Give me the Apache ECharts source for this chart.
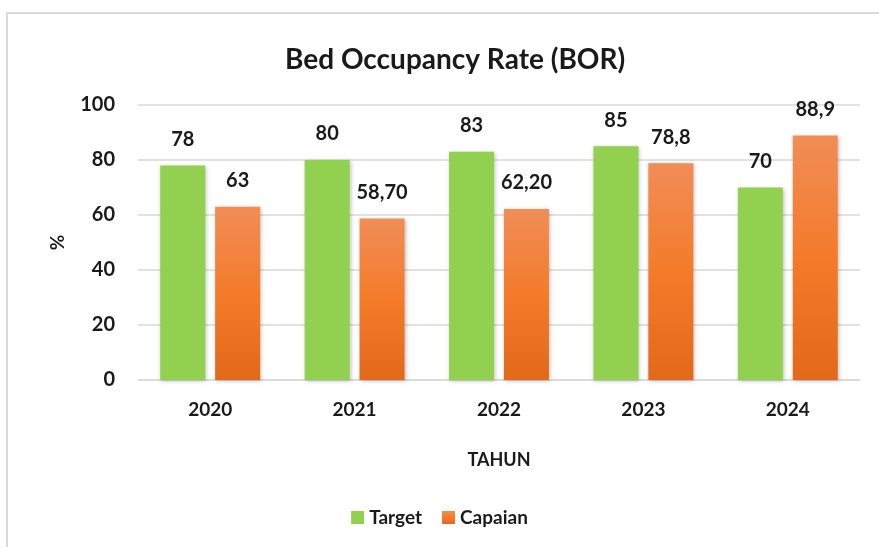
<!DOCTYPE html>
<html lang="id">
<head>
    <meta charset="UTF-8">
    <title>Bed Occupancy Rate (BOR)</title>
    <script src="https://cdn.jsdelivr.net/npm/echarts@6/dist/echarts.min.js"></script>
    <style>
        body {
            margin: 0;
            background: #fff;
        }
        #frame {
            position: absolute;
            left: 6px;
            top: 12px;
            width: 900px;
            height: 560px;
            border-left: 2px solid #d9d9d9;
            border-top: 2px solid #d9d9d9;
        }
        #chart {
            position: absolute;
            left: 0;
            top: 0;
            width: 879px;
            height: 547px;
        }
    </style>
</head>
<body>
<div id="frame"></div>
<div id="chart"></div>

<script>
    // data
    const years = ['2020', '2021', '2022', '2023', '2024'];
    const target = [78, 80, 83, 85, 70];
    const capaian = [63, 58.7, 62.2, 78.8, 88.9];
    const capaianText = ['63', '58,70', '62,20', '78,8', '88,9'];
    const yTicks = [0, 20, 40, 60, 80, 100];

    const font = 'Lato, "Open Sans", sans-serif';
    const chart = echarts.init(document.getElementById('chart'));

    const labelStyle = {
        show: true,
        position: 'top',
        distance: 16,
        fontFamily: font,
        fontWeight: 'bold',
        fontSize: 20,
        color: '#1a1a1a'
    };

    chart.setOption({
        animation: false,
        title: {
            text: 'Bed Occupancy Rate (BOR)',
            left: 280,
            top: 41,
            textStyle: { fontFamily: font, fontWeight: 'bold', fontSize: 28, color: '#1a1a1a' }
        },
        legend: {
            bottom: 15,
            left: 'center',
            itemWidth: 13,
            itemHeight: 13,
            itemGap: 20,
            icon: 'rect',
            textStyle: { fontFamily: font, fontWeight: 'bold', fontSize: 19, color: '#1a1a1a' },
            data: ['Target', 'Capaian']
        },
        grid: { left: 138, right: 19, top: 105, bottom: 167 },
        xAxis: {
            type: 'category',
            data: years,
            name: 'TAHUN',
            nameLocation: 'middle',
            nameGap: 71,
            nameTextStyle: { fontFamily: font, fontWeight: 'bold', fontSize: 18, color: '#1a1a1a' },
            axisLine: { lineStyle: { color: '#d9d9d9', width: 1.5 } },
            axisTick: { show: false },
            axisLabel: { margin: 20, fontFamily: font, fontWeight: 'bold', fontSize: 19, color: '#1a1a1a' }
        },
        yAxis: {
            type: 'value',
            min: yTicks[0],
            max: yTicks[yTicks.length - 1],
            interval: 20,
            name: '%',
            nameLocation: 'middle',
            nameRotate: 90,
            nameGap: 71,
            nameTextStyle: { fontFamily: font, fontWeight: 'bold', fontSize: 19, color: '#1a1a1a' },
            axisLine: { show: false },
            axisTick: { show: false },
            axisLabel: { margin: 23, fontFamily: font, fontWeight: 'bold', fontSize: 20, color: '#1a1a1a' },
            splitLine: { lineStyle: { color: '#d9d9d9', width: 1.5 } }
        },
        series: [
            {
                name: 'Target',
                type: 'bar',
                data: target,
                barWidth: 45,
                barGap: '22%',
                itemStyle: {
                    color: '#92d050',
                    shadowBlur: 4,
                    shadowColor: 'rgba(0,0,0,0.25)',
                    shadowOffsetX: 1,
                    shadowOffsetY: 1
                },
                label: labelStyle
            },
            {
                name: 'Capaian',
                type: 'bar',
                data: capaian,
                barWidth: 45,
                itemStyle: {
                    color: new echarts.graphic.LinearGradient(0, 0, 0, 1, [
                        { offset: 0, color: '#f18d57' },
                        { offset: 0.5, color: '#f47b2a' },
                        { offset: 1, color: '#e2691a' }
                    ]),
                    shadowBlur: 4,
                    shadowColor: 'rgba(0,0,0,0.25)',
                    shadowOffsetX: 1,
                    shadowOffsetY: 1
                },
                label: Object.assign({}, labelStyle, {
                    formatter: p => capaianText[p.dataIndex]
                })
            }
        ]
    });
</script>
</body>
</html>
